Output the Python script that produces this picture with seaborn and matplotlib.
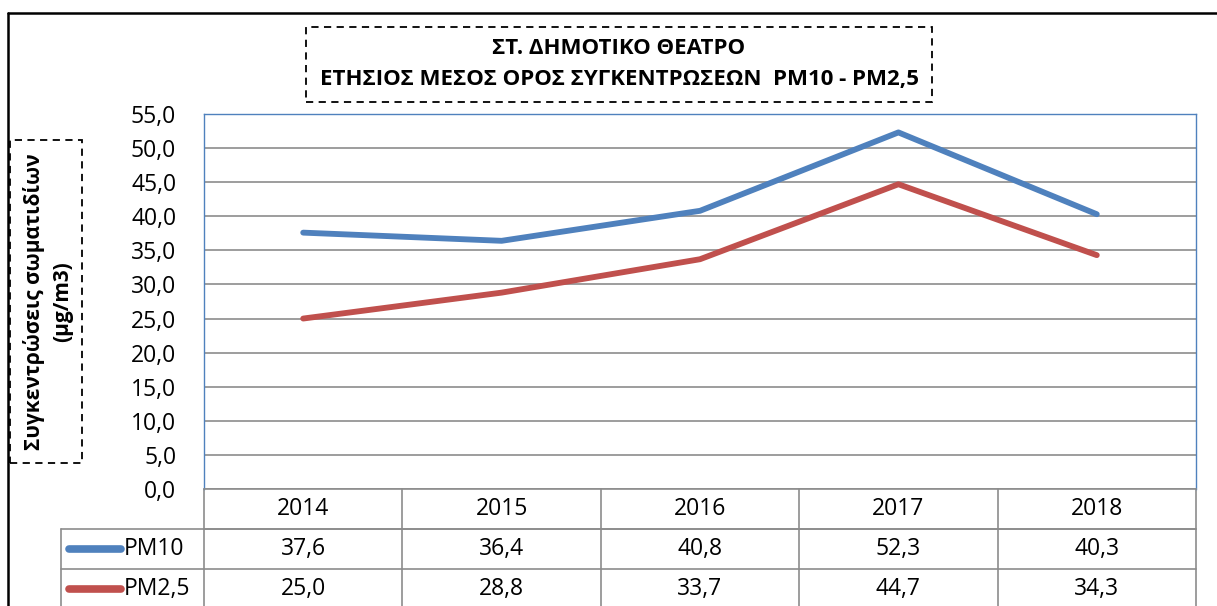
import numpy as np
import pandas as pd
import matplotlib
matplotlib.use("Agg")
import matplotlib.pyplot as plt
import matplotlib.transforms as mtransforms
from matplotlib.lines import Line2D
from matplotlib.patches import Rectangle
import seaborn as sns

# Annual mean concentrations per station year
years = ["2014", "2015", "2016", "2017", "2018"]
pm10 = [37.6, 36.4, 40.8, 52.3, 40.3]
pm25 = [25.0, 28.8, 33.7, 44.7, 34.3]
series_names = ["PM10", "PM2,5"]
series_colors = ["#4F81BD", "#C0504D"]
y_ticks = [0, 5, 10, 15, 20, 25, 30, 35, 40, 45, 50, 55]

title_lines = ["ΣΤ. ΔΗΜΟΤΙΚΟ ΘΕΑΤΡΟ",
               "ΕΤΗΣΙΟΣ ΜΕΣΟΣ ΟΡΟΣ ΣΥΓΚΕΝΤΡΩΣΕΩΝ  PM10 - PM2,5"]
ylabel_lines = ["Συγκεντρώσεις σωματιδίων", "(μg/m3)"]

sns.set_theme(style="white")
plt.rcParams["font.family"] = ["Open Sans", "DejaVu Sans"]

W, H = 1217, 606
fig = plt.figure(figsize=(W / 100, H / 100), dpi=100)
fig.patch.set_facecolor("white")

def fx(px):
    return px / W

def fy(py):
    return 1 - py / H

left_px, right_px, top_px, bot_px = 204, 1196, 114, 489
ax = fig.add_axes([fx(left_px), fy(bot_px), fx(right_px - left_px), (bot_px - top_px) / H])

df = pd.DataFrame({
    "year": list(range(len(years))) * 2,
    "value": pm10 + pm25,
    "series": [series_names[0]] * len(years) + [series_names[1]] * len(years),
})
sns.lineplot(data=df, x="year", y="value", hue="series", palette=series_colors,
             linewidth=4.2, legend=False, ax=ax, solid_capstyle="round", zorder=3)

ax.set_xlim(-0.5, len(years) - 0.5)
ax.set_ylim(0, 55)
ax.set_yticks(y_ticks)
ax.set_yticklabels([f"{v:.1f}".replace(".", ",") for v in y_ticks], fontsize=16.5, color="#000000")
ax.tick_params(axis="y", pad=20, length=0)
ax.set_xticks([])
ax.set_xlabel("")
ax.set_ylabel("")
ax.grid(axis="y", color="#8c8c8c", linewidth=1.2)
ax.set_axisbelow(True)
for side in ["left", "top", "right"]:
    ax.spines[side].set_color("#4F81BD")
    ax.spines[side].set_linewidth(1.0)
ax.spines["bottom"].set_color("#8c8c8c")
ax.spines["bottom"].set_linewidth(1.2)

# Data table below the plot, columns aligned with the categories
trans = mtransforms.blended_transform_factory(ax.transData, ax.transAxes)
row_h = 40 / (bot_px - top_px)
grid_c = "#8c8c8c"
n = len(years)
leg_left = -0.5 - (left_px - 61) / ((right_px - left_px) / n)
bottom_y = -3.2 * row_h

def tline(xs, ys):
    ax.add_line(Line2D(xs, ys, transform=trans, color=grid_c, lw=1.2, clip_on=False))

# horizontal rules
tline([-0.5, n - 0.5], [-row_h, -row_h])
tline([leg_left, n - 0.5], [-row_h, -row_h])
tline([leg_left, n - 0.5], [-2 * row_h, -2 * row_h])
# vertical rules
for i in range(n + 1):
    tline([i - 0.5, i - 0.5], [0, bottom_y])
tline([leg_left, leg_left], [-row_h, bottom_y])

for i, yr in enumerate(years):
    ax.text(i, -0.5 * row_h, yr, transform=trans, ha="center", va="center",
            fontsize=16.5, color="#000000")
for r, (vals, name, col) in enumerate(zip([pm10, pm25], series_names, series_colors)):
    yc = -(r + 1.5) * row_h
    for i, v in enumerate(vals):
        ax.text(i, yc, f"{v:.1f}".replace(".", ","), transform=trans, ha="center",
                va="center", fontsize=16.5, color="#000000")
    x0 = leg_left + 0.04
    x1 = leg_left + 0.30
    ax.add_line(Line2D([x0, x1], [yc, yc], transform=trans, color=col, lw=5.5,
                       solid_capstyle="round", clip_on=False))
    ax.text(x1 + 0.015, yc, name, transform=trans, ha="left", va="center",
            fontsize=16.5, color="#000000")

# Outer chart frame (top and left edges)
fig.add_artist(Line2D([fx(8), fx(1217)], [fy(13), fy(13)], color="black", lw=1.8))
fig.add_artist(Line2D([fx(8), fx(8)], [fy(13), fy(606)], color="black", lw=1.8))

# Title in a dashed box
fig.add_artist(Rectangle((fx(306), fy(102)), fx(932 - 306), (102 - 27) / H,
                         fill=False, edgecolor="black", lw=1.3, linestyle=(0, (4, 3))))
fig.text(fx(619), fy(48), title_lines[0], ha="center", va="center",
         fontsize=16, fontweight="bold", color="#000000")
fig.text(fx(619), fy(79), title_lines[1], ha="center", va="center",
         fontsize=16, fontweight="bold", color="#000000")

# Y-axis title in a dashed box
fig.add_artist(Rectangle((fx(10), fy(463)), fx(82 - 10), (463 - 140) / H,
                         fill=False, edgecolor="black", lw=1.3, linestyle=(0, (4, 3))))
fig.text(fx(34), fy(302), ylabel_lines[0], ha="center", va="center", rotation=90,
         fontsize=15, fontweight="bold", color="#000000")
fig.text(fx(63), fy(302), ylabel_lines[1], ha="center", va="center", rotation=90,
         fontsize=15, fontweight="bold", color="#000000")

fig.savefig("out.png", dpi=100, facecolor="white")
